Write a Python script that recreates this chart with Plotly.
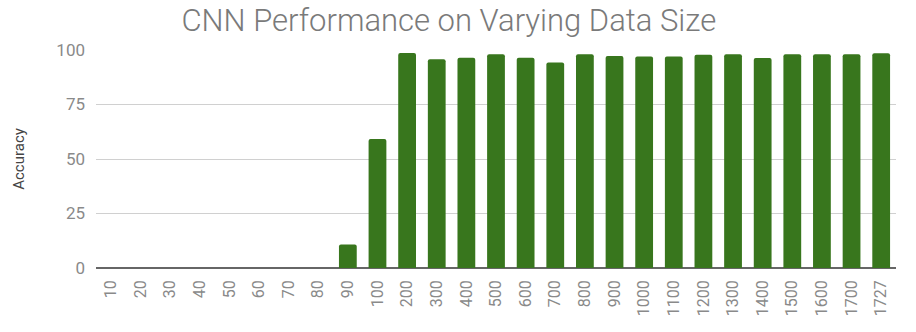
import plotly.graph_objects as go

categories = ["10", "20", "30", "40", "50", "60", "70", "80", "90", "100",
              "200", "300", "400", "500", "600", "700", "800", "900", "1000",
              "1100", "1200", "1300", "1400", "1500", "1600", "1700", "1727"]
accuracy = [0, 0, 0, 0, 0, 0, 0, 0, 10.8, 59.2,
            98.6, 95.8, 96.5, 98.0, 96.5, 94.3, 98.0, 97.2, 97.0,
            97.0, 97.8, 98.0, 96.3, 98.0, 98.0, 98.0, 98.5]
y_ticks = [0, 25, 50, 75, 100]

fig = go.Figure(go.Bar(
    x=categories, y=accuracy,
    marker=dict(color="#38761d", line=dict(width=0)),
))

fig.update_layout(
    width=916, height=332,
    margin=dict(l=96, r=20, t=50, b=64),
    paper_bgcolor="white", plot_bgcolor="white",
    bargap=0.4,
    barcornerradius=2,
    showlegend=False,
    font=dict(family="Roboto", color="#8a8a8a"),
    title=dict(text="CNN Performance on Varying Data Size",
               x=0.49, xanchor="center", y=0.94, yanchor="middle",
               font=dict(family="Roboto", size=31, color="#7a7a7a", weight=300)),
)
fig.update_xaxes(
    type="category", tickangle=-90, showgrid=False,
    showline=False, ticks="", ticklabelstandoff=8,
    tickfont=dict(size=16, color="#8a8a8a"),
)
fig.update_yaxes(
    range=[0, 100], tickvals=y_ticks, showgrid=True,
    gridcolor="#d0d0d0", gridwidth=1,
    zeroline=True, zerolinecolor="#666666", zerolinewidth=2,
    ticks="", ticklabelstandoff=10,
    tickfont=dict(size=17, color="#8a8a8a"),
    title=dict(text="Accuracy", standoff=28,
               font=dict(size=15, color="#444444")),
)

fig.write_html("out.html")
